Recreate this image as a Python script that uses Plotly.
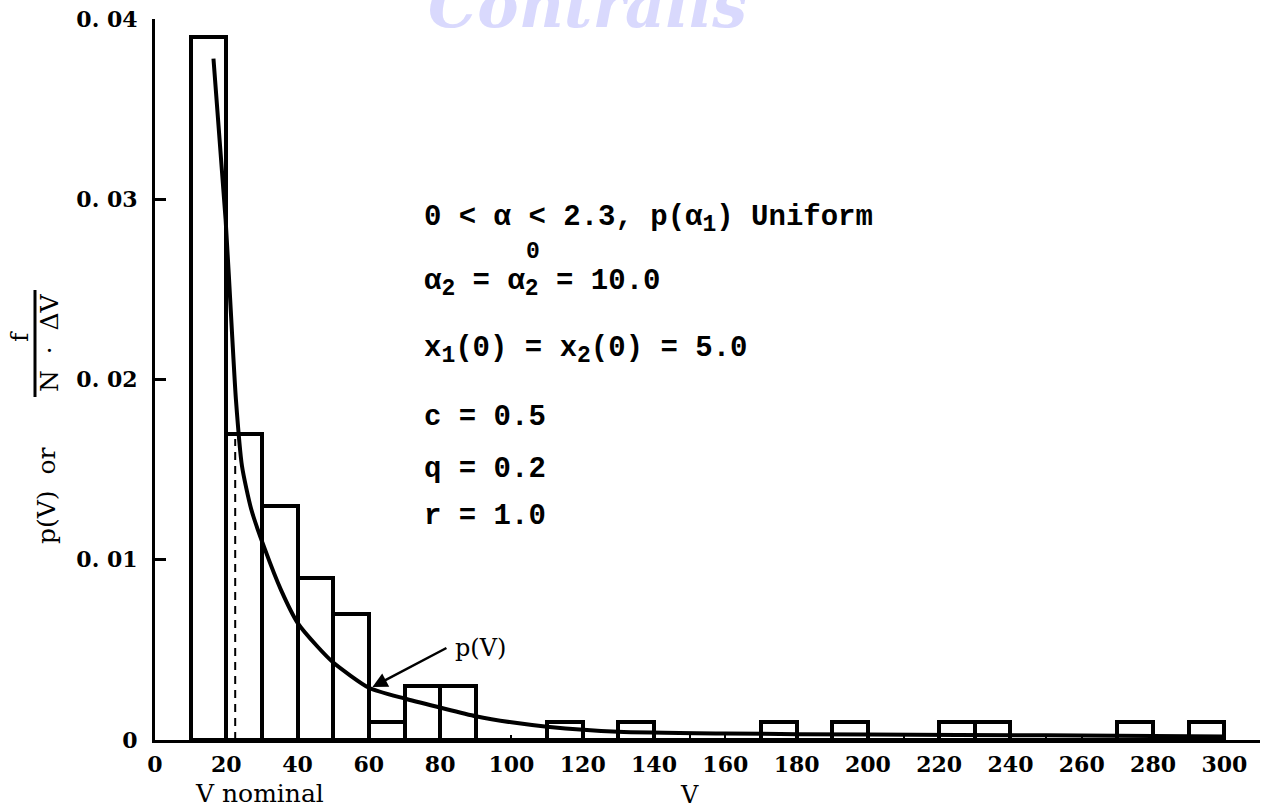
import plotly.graph_objects as go

# Histogram of V: bin left edges (width 10) and f/(N*dV) heights
bin_left = [10, 20, 30, 40, 50, 60, 70, 80, 90, 100, 110, 120, 130, 140, 150,
            160, 170, 180, 190, 200, 210, 220, 230, 240, 250, 260, 270, 280, 290]
bin_height = [0.039, 0.017, 0.013, 0.009, 0.007, 0.001, 0.003, 0.003, 0.0, 0.0,
              0.001, 0.0, 0.001, 0.0, 0.0, 0.0, 0.001, 0.0, 0.001, 0.0,
              0.0, 0.001, 0.001, 0.0, 0.0, 0.0, 0.001, 0.0, 0.001]
bin_width = 10

# Density curve p(V)
curve_v = [16.4, 19.8, 21.6, 22.7, 24.4, 27.0, 30.8, 35.4, 40.0, 45.5, 50.0,
           60.0, 70.0, 80.0, 90.0, 100.0, 110.0, 130.0, 160.0, 200.0, 250.0, 300.0]
curve_p = [0.0378, 0.0289, 0.0226, 0.0189, 0.0152, 0.0128, 0.0106, 0.0083,
           0.0065, 0.0052, 0.0043, 0.0029, 0.0023, 0.0018, 0.00132, 0.00098,
           0.00074, 0.00046, 0.00036, 0.0003, 0.00026, 0.0002]

v_nominal = 22.5
v_nominal_top = 0.0167

x_ticks = list(range(0, 301, 20))
y_ticks = [0, 0.01, 0.02, 0.03, 0.04]
y_tick_text = ["0", "0. 01", "0. 02", "0. 03", "0. 04"]


def sub(s):
    return '<sub><span style="font-size:23px">' + s + "</span></sub>"


param_lines = [
    "0 < α < 2.3, p(α" + sub("1") + ") Uniform",
    "α" + sub("2") + " = α" + sub("2") + " = 10.0",
    "x" + sub("1") + "(0) = x" + sub("2") + "(0) = 5.0",
    "c = 0.5",
    "q = 0.2",
    "r = 1.0",
]
param_y = [0.0289, 0.0253, 0.0216, 0.0179, 0.0150, 0.0124]

SERIF = "DejaVu Serif"
MONO = "Liberation Mono"

fig = go.Figure()

fig.add_trace(go.Bar(
    x=[b + bin_width / 2 for b in bin_left],
    y=bin_height,
    width=bin_width,
    marker=dict(color="rgba(0,0,0,0)", line=dict(color="black", width=4)),
    showlegend=False,
    hoverinfo="skip",
))

fig.add_trace(go.Scatter(
    x=curve_v, y=curve_p, mode="lines",
    line=dict(color="black", width=4, shape="spline", smoothing=0.6),
    showlegend=False, hoverinfo="skip",
))

# dashed marker for the nominal V
fig.add_shape(type="line", x0=v_nominal, x1=v_nominal, y0=0, y1=v_nominal_top,
              xref="x", yref="y", line=dict(color="black", width=2, dash="8px,6px"))

annotations = []

for txt, yv in zip(param_lines, param_y):
    annotations.append(dict(
        x=75, y=yv, xref="x", yref="y", text=txt, showarrow=False,
        xanchor="left", yanchor="middle",
        font=dict(family=MONO, size=29, color="black", weight="bold"),
    ))

# superscript 0 over the second alpha subscript
annotations.append(dict(
    x=103.5, y=0.0271, xref="x", yref="y", text="0", showarrow=False,
    xanchor="left", yanchor="middle",
    font=dict(family=MONO, size=23, color="black", weight="bold"),
))

# p(V) pointer
annotations.append(dict(
    x=61, y=0.00294, xref="x", yref="y", text="p(V)",
    showarrow=True, ax=74, ay=-39, xanchor="left", borderpad=8,
    arrowhead=2, arrowsize=1.2, arrowwidth=2.5, arrowcolor="black",
    font=dict(family=SERIF, size=24, color="black"),
))

# axis titles
annotations.append(dict(
    x=0.095, y=-0.0745, xref="paper", yref="paper", text="V nominal",
    showarrow=False, xanchor="center", yanchor="middle",
    font=dict(family=SERIF, size=25, color="black"),
))
annotations.append(dict(
    x=150, y=-0.0985, xref="x", yref="paper", text="V",
    showarrow=False, xanchor="center", yanchor="bottom",
    font=dict(family=SERIF, size=24, color="black"),
))
annotations.append(dict(
    x=-0.0986, y=0.3384, xref="paper", yref="paper", text="p(V)\u00a0\u00a0or",
    showarrow=False, textangle=-90, xanchor="center", yanchor="middle",
    font=dict(family=SERIF, size=25, color="black"),
))
annotations.append(dict(
    x=-0.1231, y=0.5603, xref="paper", yref="paper", text="f",
    showarrow=False, textangle=-90, xanchor="center", yanchor="middle",
    font=dict(family=SERIF, size=25, color="black"),
))
annotations.append(dict(
    x=-0.0959, y=0.5506, xref="paper", yref="paper",
    text="N\u00a0\u00a0·\u00a0\u00a0ΔV",
    showarrow=False, textangle=-90, xanchor="center", yanchor="middle",
    font=dict(family=SERIF, size=25, color="black"),
))
fig.add_shape(type="line", xref="paper", yref="paper",
              x0=-0.1086, x1=-0.1086, y0=0.4757, y1=0.6241,
              line=dict(color="black", width=3))

# faint archive mark along the top edge
annotations.append(dict(
    x=0.391, y=1.019, xref="paper", yref="paper", text="<i><b>Contrails</b></i>",
    showarrow=False, xanchor="center", yanchor="middle",
    font=dict(family=SERIF, size=62, color="rgba(165,165,250,0.42)"),
))

fig.update_layout(
    width=1264, height=811,
    margin=dict(l=155, r=4, t=19, b=71),
    paper_bgcolor="white", plot_bgcolor="white",
    annotations=annotations,
    bargap=0,
)

fig.update_xaxes(
    range=[0, 310], showgrid=False, zeroline=False,
    showline=True, linecolor="black", linewidth=3,
    tickvals=x_ticks, ticks="inside", ticklen=5, tickwidth=2, tickcolor="black",
    minor=dict(dtick=10, ticks="inside", ticklen=5, tickwidth=2, tickcolor="black"),
    ticklabelstandoff=3,
    tickfont=dict(family=SERIF, size=22, color="black", weight="bold"),
)
fig.update_yaxes(
    range=[0, 0.04], showgrid=False, zeroline=False,
    showline=True, linecolor="black", linewidth=3,
    tickvals=y_ticks, ticktext=y_tick_text,
    ticks="inside", ticklen=11, tickwidth=3, tickcolor="black",
    ticklabelstandoff=10,
    tickfont=dict(family=SERIF, size=22, color="black", weight="bold"),
)

fig.write_html("out.html")
